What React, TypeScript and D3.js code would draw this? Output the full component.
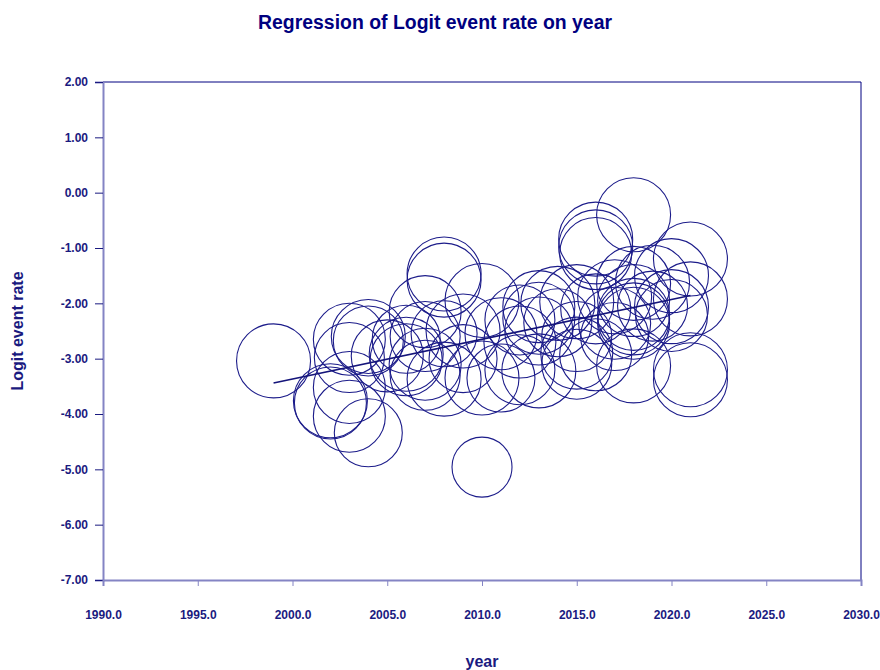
import React, { useEffect, useRef } from "react";
import * as d3 from "d3";

// study years, logit event rates and relative circle radii
const years = [
    1999,
    2002, 2002,
    2003, 2003, 2003, 2003,
    2004, 2004, 2004,
    2005,
    2006, 2006, 2006,
    2007, 2007, 2007, 2007,
    2008, 2008, 2008, 2008,
    2009, 2009,
    2010, 2010, 2010,
    2011, 2011,
    2012, 2012, 2012,
    2013, 2013, 2013, 2013,
    2014, 2014,
    2015, 2015, 2015, 2015,
    2016, 2016, 2016, 2016, 2016,
    2017, 2017, 2017,
    2018, 2018, 2018, 2018, 2018, 2018, 2018,
    2019, 2019,
    2020, 2020, 2020,
    2021, 2021, 2021, 2021
];
const logits = [
    -3.04,
    -3.76, -3.80,
    -4.04, -3.52, -2.98, -2.65,
    -4.34, -2.60, -2.68,
    -2.95,
    -2.92, -3.02, -2.65,
    -2.15, -2.60, -3.10, -3.30,
    -1.47, -1.58, -2.55, -3.37,
    -2.50, -3.00,
    -1.95, -3.35, -4.96,
    -2.55, -3.35,
    -2.30, -2.70, -3.20,
    -2.06, -2.27, -2.50, -3.22,
    -2.00, -2.35,
    -1.97, -2.60, -2.90, -3.10,
    -0.84, -0.98, -1.10, -2.10, -2.93,
    -1.88, -2.36, -2.60,
    -0.40, -1.64, -1.95, -2.20, -2.28, -2.36, -3.13,
    -1.62, -2.05,
    -1.50, -2.06, -2.22,
    -1.20, -1.92, -3.20, -3.38
];
const weights = [
    37,
    37, 36,
    36, 36, 35, 36,
    34, 37, 35,
    36,
    37, 36, 34,
    36, 35, 36, 35,
    37, 37, 33, 37,
    37, 34,
    37, 37, 30,
    36, 34,
    35, 36, 35,
    36, 36, 34, 37,
    37, 34,
    37, 35, 36, 35,
    37, 37, 36, 35, 36,
    37, 36, 34,
    37, 37, 36, 36, 36, 36, 37,
    37, 35,
    37, 37, 36,
    37, 37, 37, 37
];

// fitted regression line end points
const regYears = [1999, 2021];
const regLogits = [-3.44, -1.86];

const xTicks = [1990, 1995, 2000, 2005, 2010, 2015, 2020, 2025, 2030];
const yTicks = [2, 1, 0, -1, -2, -3, -4, -5, -6, -7];

const NAVY = "#1a1a80";
const AXIS = "#8484c4";
const FONT = "'Liberation Sans', Arial, sans-serif";

export default function App() {
    const svgRef = useRef(null);

    useEffect(() => {
        document.body.style.margin = "0";
        const width = 880;
        const height = 670;
        const margin = { top: 82, right: 19, bottom: 90, left: 103 };

        const svg = d3.select(svgRef.current)
            .attr("width", width)
            .attr("height", height)
            .style("font-family", FONT);

        svg.selectAll("*").remove();

        const x = d3.scaleLinear()
            .domain([1990, 2030])
            .range([margin.left, width - margin.right]);
        const y = d3.scaleLinear()
            .domain([-7, 2])
            .range([height - margin.bottom, margin.top]);

        // Title
        svg.append("text")
            .attr("x", 435)
            .attr("y", 29)
            .attr("text-anchor", "middle")
            .attr("textLength", 354)
            .attr("lengthAdjust", "spacingAndGlyphs")
            .style("font-size", "20px")
            .style("font-weight", "bold")
            .attr("fill", "#000080")
            .text("Regression of Logit event rate on year");

        // top + right frame
        svg.append("path")
            .attr("d", `M${x(1990)},${y(2)}H${x(2030)}V${y(-7)}`)
            .attr("fill", "none")
            .attr("stroke", "#000080")
            .attr("stroke-width", 1);

        // Circles
        const pts = years.map((yr, i) => ({ yr, v: logits[i], r: weights[i] }));
        svg.append("g")
            .selectAll("circle")
            .data(pts)
            .join("circle")
            .attr("cx", d => x(d.yr))
            .attr("cy", d => y(d.v))
            .attr("r", d => d.r)
            .attr("fill", "none")
            .attr("stroke", "#1c1c8a")
            .attr("stroke-width", 1.1);

        // Regression line
        const line = d3.line<number>()
            .x((d, i) => x(regYears[i]))
            .y(d => y(d));
        svg.append("path")
            .attr("d", line(regLogits))
            .attr("fill", "none")
            .attr("stroke", "#14147a")
            .attr("stroke-width", 1.6);

        // Y axis
        const yAxis = svg.append("g")
            .attr("transform", `translate(${margin.left},0)`)
            .call(d3.axisLeft(y).tickValues(yTicks).tickSize(8).tickPadding(7)
                .tickFormat(d => (d as number).toFixed(2)));
        yAxis.select(".domain").attr("stroke", AXIS).attr("stroke-width", 2);
        yAxis.selectAll(".tick line").attr("stroke", NAVY);
        yAxis.selectAll("text")
            .attr("fill", NAVY)
            .style("font-size", "12px")
            .style("font-weight", "bold")
            .style("font-family", FONT);

        // X axis
        const xAxis = svg.append("g")
            .attr("transform", `translate(0,${height - margin.bottom})`)
            .call(d3.axisBottom(x).tickValues(xTicks).tickSize(6).tickPadding(24)
                .tickFormat(d => (d as number).toFixed(1)));
        xAxis.select(".domain").attr("stroke", AXIS).attr("stroke-width", 2);
        xAxis.selectAll(".tick line").attr("stroke", AXIS);
        xAxis.selectAll("text")
            .attr("fill", NAVY)
            .style("font-size", "12px")
            .style("font-weight", "bold")
            .style("font-family", FONT);

        // Axis titles
        svg.append("text")
            .attr("x", 482)
            .attr("y", 667)
            .attr("text-anchor", "middle")
            .attr("fill", NAVY)
            .style("font-size", "16px")
            .style("font-weight", "bold")
            .text("year");

        svg.append("text")
            .attr("transform", `translate(23,${331}) rotate(-90)`)
            .attr("text-anchor", "middle")
            .attr("fill", NAVY)
            .style("font-size", "16px")
            .style("font-weight", "bold")
            .text("Logit event rate");
    }, []);

    return <svg ref={svgRef} />;
}
